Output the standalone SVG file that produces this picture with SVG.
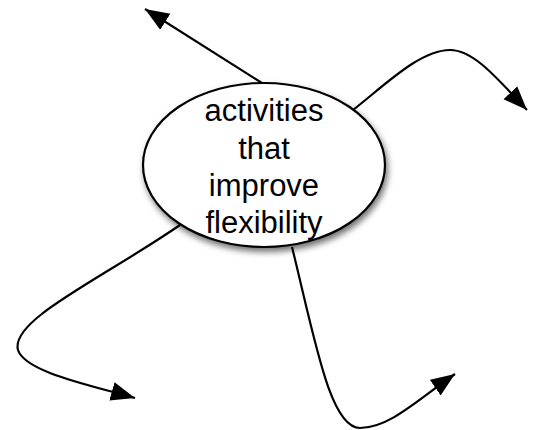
<svg xmlns="http://www.w3.org/2000/svg" width="538" height="430" viewBox="0 0 538 430">
  <style>
    .conn { fill: none; stroke: #000; stroke-width: 2.2; marker-end: url(#arrow); }
    .node { fill: #fff; stroke: #000; stroke-width: 2.2; }
    .label { font-family: "Liberation Sans", Arial, Helvetica, sans-serif; font-size: 31px; fill: #000; text-anchor: middle; }
  </style>
  <defs>
    <marker id="arrow" markerUnits="userSpaceOnUse" markerWidth="26" markerHeight="20" refX="24" refY="9.5" orient="auto">
      <path d="M0,0 L24,9.5 L0,19 z" fill="#000"/>
    </marker>
    <filter id="shadow" x="-20%" y="-20%" width="140%" height="150%">
      <feDropShadow dx="2" dy="4" stdDeviation="3" flood-color="#000" flood-opacity="0.55"/>
    </filter>
  </defs>
  <rect width="538" height="430" fill="#fff"/>
  <g id="connectors">
    <path class="conn" d="M262,83 L145,9"/>
    <path class="conn" d="M353,110 C385,85 420,50 450,50 C475,50 500,82 527,110"/>
    <path class="conn" d="M180,225 C100,280 10,320 18,350 C25,372 90,385 135,398"/>
    <path class="conn" d="M292,247 C315,340 330,428 360,428 C390,428 420,398 455,374"/>
  </g>
  <g id="node-center">
    <ellipse class="node" cx="264" cy="165" rx="121" ry="82" filter="url(#shadow)"/>
    <text class="label" x="264" y="121">activities</text>
    <text class="label" x="264" y="159">that</text>
    <text class="label" x="264" y="196">improve</text>
    <text class="label" x="264" y="233">flexibility</text>
  </g>
</svg>
